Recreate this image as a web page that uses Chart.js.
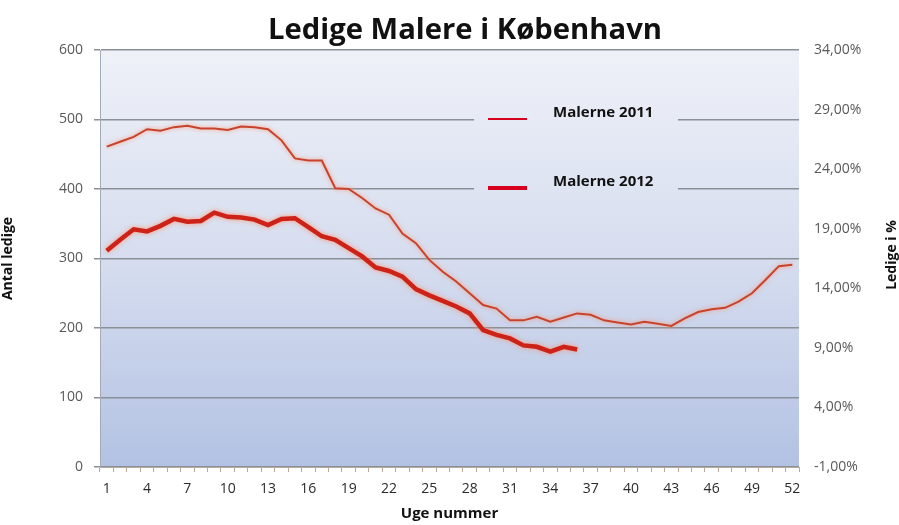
<!DOCTYPE html>
<html>
<head>
<meta charset="utf-8">
<script src="https://cdn.jsdelivr.net/npm/chart.js@4.4.1/dist/chart.umd.min.js"></script>
<style>
  html, body { margin: 0; padding: 0; background: #fff; }
  #wrap { width: 899px; height: 525px; }
</style>
</head>
<body>
<div id="wrap"><canvas id="ledigeChart"></canvas></div>
<script>
const weeks = ['1','2','3','4','5','6','7','8','9','10','11','12','13','14','15','16','17','18','19','20','21','22','23','24','25','26',
    '27','28','29','30','31','32','33','34','35','36','37','38','39','40','41','42','43','44','45','46','47','48','49','50','51','52'];

const malerne2011 = [461, 468, 475, 486, 484, 489, 491, 487, 487, 485, 490, 489, 486, 470, 444, 441, 441, 401, 400, 387,
    372, 363, 336, 322, 298, 281, 267, 250, 233, 228, 211, 211, 216, 209, 215, 221, 219, 211, 208, 205,
    209, 206, 203, 214, 223, 227, 229, 238, 250, 269, 289, 291];

const malerne2012 = [311, 327, 342, 339, 347, 357, 353, 354, 366, 360, 359, 356, 348, 357, 358, 345, 332, 327, 315, 303,
    287, 282, 274, 256, 247, 239, 231, 221, 197, 190, 185, 175, 173, 166, 173, 169];

const countTicks = [0, 100, 200, 300, 400, 500, 600];
const pctTicks = [-1, 4, 9, 14, 19, 24, 29, 34];

// plot background gradient + legend box + titles
const decorPlugin = {
    id: 'decor',
    beforeDraw(chart) {
        const { ctx, chartArea: a } = chart;
        const g = ctx.createLinearGradient(0, a.top, 0, a.bottom);
        g.addColorStop(0, '#eff1f8');
        g.addColorStop(0.5, '#d6ddef');
        g.addColorStop(1, '#b3c2e3');
        chart.$plotGradient = g;
        ctx.save();
        ctx.fillStyle = g;
        ctx.fillRect(a.left, a.top, a.right - a.left, a.bottom - a.top);
        ctx.restore();
    },
    afterDatasetsDraw(chart) {
        const { ctx } = chart;
        // legend box covers the grid lines
        ctx.save();
        ctx.fillStyle = chart.$plotGradient;
        ctx.fillRect(474, 100, 204, 100);
        const rows = [{ y: 119, w: 2 }, { y: 188, w: 4 }];
        chart.data.datasets.forEach((ds, i) => {
            const r = rows[i];
            ctx.strokeStyle = '#d6001c';
            ctx.lineWidth = r.w;
            ctx.beginPath();
            ctx.moveTo(488, r.y);
            ctx.lineTo(527, r.y);
            ctx.stroke();
            ctx.fillStyle = '#111';
            ctx.font = 'bold 15px "Open Sans"';
            ctx.textBaseline = 'middle';
            ctx.textAlign = 'left';
            ctx.fillText(ds.label, 553, r.y - 6);
        });
        // title, stretched to the width it has in the original
        ctx.font = 'bold 29px "Open Sans"';
        ctx.textAlign = 'center';
        ctx.textBaseline = 'middle';
        const title = 'Ledige Malere i København';
        const sx = 394 / ctx.measureText(title).width;
        ctx.save();
        ctx.translate(465, 31);
        ctx.scale(sx, 1);
        ctx.fillText(title, 0, 0);
        ctx.restore();
        // right axis title reads bottom to top
        ctx.translate(892, 255);
        ctx.rotate(-Math.PI / 2);
        ctx.font = 'bold 14px "Open Sans"';
        ctx.fillText('Ledige i %', 0, 0);
        ctx.restore();
    }
};

const glowPlugin = {
    id: 'glow',
    beforeDatasetDraw(chart, args) {
        const ctx = chart.ctx;
        ctx.save();
        ctx.shadowColor = 'rgba(255, 140, 100, 0.85)';
        ctx.shadowBlur = args.index === 0 ? 4 : 5;
    },
    afterDatasetDraw(chart) {
        chart.ctx.restore();
    }
};

const ctx = document.getElementById('ledigeChart').getContext('2d');
const ledigeChart = new Chart(ctx, {
    type: 'line',
    data: {
        labels: weeks,
        datasets: [{
            label: 'Malerne 2011',
            data: malerne2011,
            borderColor: '#c8432c',
            borderWidth: 2,
            pointRadius: 0,
            tension: 0,
            yAxisID: 'y'
        }, {
            label: 'Malerne 2012',
            data: malerne2012,
            borderColor: '#cc2217',
            borderWidth: 4.5,
            pointRadius: 0,
            tension: 0,
            yAxisID: 'y'
        }]
    },
    options: {
        responsive: true,
        maintainAspectRatio: false,
        animation: false,
        layout: { padding: { top: 50, left: 0, right: 0, bottom: 0 } },
        plugins: {
            legend: { display: false },
            title: { display: false },
            tooltip: { enabled: false }
        },
        scales: {
            x: {
                type: 'category',
                offset: true,
                afterFit(scale) { scale.height = 58; },
                grid: {
                    offset: true,
                    drawOnChartArea: false,
                    drawTicks: true,
                    tickLength: 5,
                    color: '#b6aa9c'
                },
                border: { color: '#b6aa9c', width: 1 },
                ticks: {
                    autoSkip: false,
                    maxRotation: 0,
                    padding: 9,
                    color: '#2b2b2b',
                    font: { family: '"Open Sans"', size: 14 },
                    callback(value, index) {
                        return index % 3 === 0 ? this.getLabelForValue(value) : '';
                    }
                },
                title: {
                    display: true,
                    text: 'Uge nummer',
                    color: '#111',
                    font: { family: '"Open Sans"', size: 15, weight: 'bold' },
                    padding: { top: 0, bottom: 2 }
                }
            },
            y: {
                position: 'left',
                min: 0,
                max: 600,
                afterFit(scale) { scale.width = 100; },
                afterBuildTicks(scale) { scale.ticks = countTicks.map(v => ({ value: v })); },
                grid: {
                    color: '#8b8f98',
                    lineWidth: 1.5,
                    drawTicks: true,
                    tickLength: 6
                },
                border: { color: '#a3aab8', width: 1 },
                ticks: {
                    padding: 11,
                    color: '#595959',
                    font: { family: '"Open Sans"', size: 14 }
                },
                title: {
                    display: true,
                    text: 'Antal ledige',
                    color: '#111',
                    font: { family: '"Open Sans"', size: 14, weight: 'bold' },
                    padding: { top: 0, bottom: 8 }
                }
            },
            y2: {
                position: 'right',
                min: -1,
                max: 34,
                afterFit(scale) { scale.width = 100; },
                afterBuildTicks(scale) { scale.ticks = pctTicks.map(v => ({ value: v })); },
                grid: { drawOnChartArea: false, drawTicks: false },
                border: { display: false },
                ticks: {
                    padding: 15,
                    color: '#595959',
                    font: { family: '"Open Sans"', size: 14 },
                    callback(value) {
                        return value.toFixed(2).replace('.', ',') + '%';
                    }
                },
                title: { display: false }
            }
        }
    },
    plugins: [decorPlugin, glowPlugin]
});
</script>
</body>
</html>
